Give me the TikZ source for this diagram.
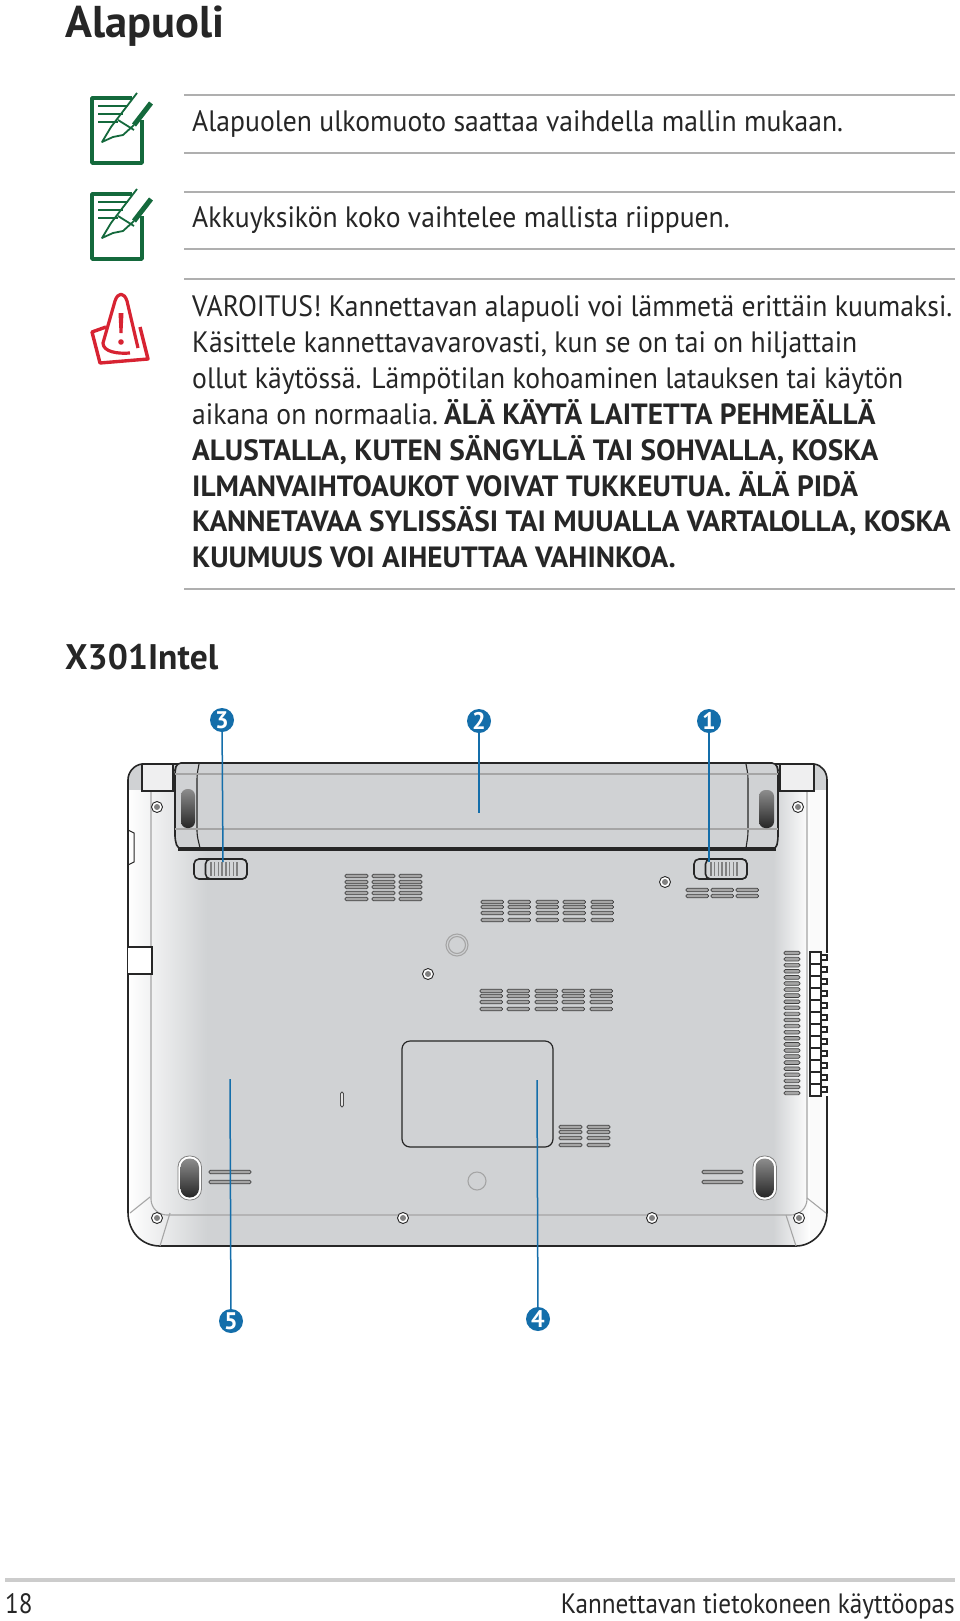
\documentclass[tikz,border=0pt]{standalone}
\usepackage{fontspec}
\setmainfont{PT Sans}
\newfontfamily\bodyfont[FakeStretch=0.937]{PT Sans}
\newfontfamily\footfont[FakeStretch=0.90]{PT Sans}
\usetikzlibrary{calc}
\definecolor{notegreen}{RGB}{20,105,60}
\definecolor{warnred}{RGB}{215,35,50}
\definecolor{callblue}{RGB}{20,110,170}
\definecolor{bodygray}{RGB}{208,210,212}
\definecolor{linegray}{RGB}{165,165,165}
\definecolor{rulegray}{RGB}{175,175,175}
\tikzstyle{heading}=[anchor=base west,inner sep=0pt,font=\fontsize{44.5}{44.5}\selectfont\bfseries,text=black!85]
\tikzstyle{subheading}=[anchor=base west,inner sep=0pt,font=\fontsize{35.5}{36}\selectfont\bfseries,text=black!85]
\tikzstyle{bodytext}=[anchor=base west,inner sep=0pt,font=\bodyfont\fontsize{29.5}{36}\selectfont,text=black!85]
\tikzstyle{boldtext}=[anchor=base west,inner sep=0pt,font=\fontsize{29.3}{36}\selectfont\bfseries,text=black!85]
\tikzstyle{foottext}=[inner sep=0pt,font=\footfont\fontsize{28}{28}\selectfont,text=black!85]
\tikzstyle{callout}=[circle,
                                    fill=callblue,
                                    text=white,
                                    inner sep=0pt,
                                    minimum size=24pt,
                                    font=\fontsize{24}{24}\selectfont\bfseries]
\tikzstyle{outline}=[draw=black!85,line width=1.6pt]
\tikzstyle{thinline}=[draw=linegray,line width=1.1pt]
\tikzstyle{slot}=[draw=black!75,fill=gray!70,line width=.7pt,rounded corners=1.5pt]
\tikzstyle{hrule}=[draw=rulegray,line width=1.2pt]
\tikzstyle{leader}=[draw=callblue,line width=1.5pt]
\newcommand{\ventslot}[3]{\path[slot] (#1,#3-1.8) rectangle (#2,#3+1.8);}
\newcommand{\bodypath}{(142,764) -- (814,764) .. controls (822,765) and (827,772) .. (827,780) -- (827,1212) .. controls (827,1232) and (812,1246) .. (796,1246) -- (160,1246) .. controls (142,1246) and (128,1232) .. (128,1212) -- (128,780) .. controls (128,772) and (134,765) .. (142,764) -- cycle}
\newcommand{\notepad}[2]{%
  \begin{scope}[shift={(#1,#2)}]
    \draw[notegreen,line width=3.6pt,line join=round] (41,8) -- (1,8) -- (1,73) -- (51,73) -- (51,30);
    \draw[notegreen,line width=1.4pt] (7,16) -- (37,16) (7,24) -- (32,24) (7,32) -- (27,32);
    \draw[notegreen,line width=1.8pt,line join=round] (46,3) -- (20,37) -- (11,52) -- (22,47) -- (32,45) -- (43,35);
    \draw[notegreen,line width=1.8pt] (27,30) -- (43,40);
    \draw[notegreen,line width=5pt] (43,35) -- (60,13);
  \end{scope}}
\begin{document}
\begin{tikzpicture}[x=1pt,y=-1pt]
  \useasboundingbox (0,0) rectangle (960,1621);
  \fill[white] (0,0) rectangle (960,1621);

  % Page headings
  \node (title) [heading] at (65,38) {Alapuoli};
  \node (model) [subheading] at (65,669) {X301Intel};

  % Rules next to the notes
  \foreach \rowy in {95,153,192,249,279,589} {
    \draw[hrule] (184,\rowy) -- (955,\rowy);
  }

  % Icons
  \notepad{91}{90}
  \notepad{91}{186}
  \draw[warnred,line width=3.4pt,line join=round] (106,327) -- (92,332) -- (100,363) -- (148,359) -- (140,327);
  \draw[warnred,fill=white,line width=3.2pt,line join=round] (138,348) -- (127,301) .. controls (124,292) and (118,292) .. (115,301) -- (103,343) .. controls (103,352) and (118,354) .. (130,353);
  \fill[warnred] (118.5,313) -- (123.5,313) -- (122.5,333) -- (119.5,333) -- cycle;
  \fill[warnred] (121,342) circle (2.8pt);

  % Note texts
  \node (note1) [bodytext] at (192,132) {Alapuolen ulkomuoto saattaa vaihdella mallin mukaan.};
  \node (note2) [bodytext] at (192,228) {Akkuyksikön koko vaihtelee mallista riippuen.};
  \node (warn1) [bodytext] at (192,316) {VAROITUS! Kannettavan alapuoli voi lämmetä erittäin kuumaksi.};
  \node (warn2) [bodytext] at (192,352) {Käsittele kannettavavarovasti, kun se on tai on hiljattain};
  \node (warn3) [bodytext] at (192,388) {ollut käytössä. Lämpötilan kohoaminen latauksen tai käytön};
  \node (warn4) [bodytext] at (192,424) {aikana on normaalia.};
  \node (warn4b) [boldtext] at (444,424) {ÄLÄ KÄYTÄ LAITETTA PEHMEÄLLÄ};
  \node (warn5) [boldtext] at (192,460) {ALUSTALLA, KUTEN SÄNGYLLÄ TAI SOHVALLA, KOSKA};
  \node (warn6) [boldtext] at (192,496) {ILMANVAIHTOAUKOT VOIVAT TUKKEUTUA. ÄLÄ PIDÄ};
  \node (warn7) [boldtext] at (192,531) {KANNETAVAA SYLISSÄSI TAI MUUALLA VARTALOLLA, KOSKA};
  \node (warn8) [boldtext] at (192,567) {KUUMUUS VOI AIHEUTTAA VAHINKOA.};

  % Laptop body
  \begin{scope}
    \clip \bodypath;
    \fill[bodygray] (120,760) rectangle (830,1250);
    \shade[left color=white,right color=bodygray] (128,790) rectangle (207,1250);
    \shade[left color=bodygray,right color=white] (773,790) rectangle (810,1250);
    \fill[white!96!gray] (810,790) rectangle (830,1250);
  \end{scope}
  \draw[outline] \bodypath;

  % Inner panel
  \draw[thinline,rounded corners=16pt] (151,791) -- (151,1215) -- (807,1215) -- (807,791);
  \draw[thinline] (130,1213) -- (150,1197) (170,1213) -- (160,1246) (807,1198) -- (826,1213) (786,1215) -- (796,1246);

  % Hinges and side bumps
  \draw[outline,fill=bodygray!35] (142,765) -- (142,791) -- (173,791) -- (173,765);
  \draw[outline,fill=bodygray!35] (780,765) -- (780,791) -- (814,791) -- (814,765);
  \draw[outline,line width=1pt] (128,830) -- (134,833) -- (134,862) -- (128,865);
  \draw[outline,fill=white] (128,947) -- (152,947) -- (152,974) -- (128,974);

  % Battery
  \draw[outline,fill=bodygray,rounded corners=4pt] (177,763) -- (175,770) -- (175,840) -- (178,849) -- (776,849) -- (778,840) -- (778,770) -- (776,763) -- cycle;
  \draw[outline,line width=1.1pt,rounded corners=4pt] (199,764) -- (197,775) -- (197,835) -- (200,848);
  \draw[outline,line width=1.1pt,rounded corners=4pt] (746,764) -- (748,775) -- (748,835) -- (746,848);
  \draw[thinline] (175,774) -- (778,774) (175,829) -- (778,829);
  \draw[black!85,line width=3.5pt] (178,849) -- (776,849);

  % Battery feet
  \shade[top color=black!45,middle color=black!85,bottom color=black!85,rounded corners=6.5pt] (181,789) rectangle (195,828);
  \shade[top color=black!45,middle color=black!85,bottom color=black!85,rounded corners=6.5pt] (759,790) rectangle (774,828);

  % Latches
  \foreach \latchx in {194,694} {
    \draw[outline,rounded corners=5pt] (\latchx,859) rectangle ++(53,20);
    \draw[outline,fill=bodygray!95!white,rounded corners=5pt] (\latchx+11.5,859) rectangle ++(41.5,20);
    \foreach \tick in {0,...,7} {
      \draw[gray,line width=1.4pt] (\latchx+17+\tick*3.7,862) -- ++(0,14);
    }
  }

  % Vents
  \foreach \ventx in {345,372,399} {
    \foreach \venty in {876,882,887,893,899} {
      \ventslot{\ventx}{\ventx+23}{\venty}
    }
  }
  \foreach \ventx in {481,508,536,563,591} {
    \foreach \venty in {902,907,913,920} {
      \ventslot{\ventx}{\ventx+22.5}{\venty}
    }
    \foreach \venty in {991,996,1002,1009} {
      \ventslot{\ventx-1}{\ventx+21.5}{\venty}
    }
  }
  \foreach \ventx in {686,711,736} {
    \foreach \venty in {890,896} {
      \ventslot{\ventx}{\ventx+22.5}{\venty}
    }
  }
  \foreach \ventx in {559,587} {
    \foreach \venty in {1127,1132,1138,1145} {
      \ventslot{\ventx}{\ventx+23}{\venty}
    }
  }
  \foreach \venty in {1172,1182} {
    \ventslot{209}{251}{\venty}
    \ventslot{702}{743}{\venty}
  }
  \foreach \rownum in {0,...,23} {
    \ventslot{784}{800}{953+\rownum*6.09}
  }

  % Comb on the right edge
  \draw[white,line width=3pt] (827,953) -- (827,1096);
  \foreach \rownum in {0,...,11} {
    \draw[black!85,line width=1.7pt,fill=white] (820,955+\rownum*12) rectangle ++(7,5);
    \draw[black!85,line width=1.7pt,fill=white] (810,952+\rownum*12) rectangle ++(11,12);
  }

  % Memory door
  \draw[outline,line width=1.2pt,rounded corners=8pt] (402,1041) rectangle (553,1147);
  \draw[black!70,fill=white!80!gray,line width=.8pt,rounded corners=1.5pt] (340.5,1092) rectangle (343.5,1107);

  % Round marks
  \draw[thinline] (457,945) circle (11pt);
  \draw[thinline] (457,945) circle (8.5pt);
  \draw[thinline] (477,1181) circle (9pt);
  \foreach \screwx/\screwy in {157/807,798/807,428/974,665/882,157/1218,403/1218,652/1218,799/1218} {
    \draw[black!85,fill=white,line width=.9pt] (\screwx,\screwy) circle (5.5pt);
    \fill[gray] (\screwx,\screwy) circle (3pt);
  }

  % Rubber feet
  \foreach \footx in {178,753} {
    \draw[gray,fill=white,line width=.8pt,rounded corners=11pt] (\footx,1156) rectangle ++(23.5,44);
    \shade[top color=black!45,middle color=black!85,bottom color=black!85,rounded corners=9pt] (\footx+2.5,1158.5) rectangle ++(18.5,39);
  }

  % Callouts
  \node (c3) [callout] at (222,720) {3};
  \node (c2) [callout] at (479,721) {2};
  \node (c1) [callout] at (709,721) {1};
  \node (c5) [callout] at (231,1321) {5};
  \node (c4) [callout] at (538,1319) {4};
  \coordinate (latchL) at (223,862);
  \coordinate (battery) at (479,813);
  \coordinate (latchR) at (709,862);
  \coordinate (speaker) at (230,1079);
  \coordinate (door) at (537,1080);
  \draw[leader] (c3) -- (latchL);
  \draw[leader] (c2) -- (battery);
  \draw[leader] (c1) -- (latchR);
  \draw[leader] (c5) -- (speaker);
  \draw[leader] (c4) -- (door);

  % Footer
  \draw[draw=gray!40,line width=4pt] (5,1580) -- (955,1580);
  \node (pagenum) [foottext,anchor=base west] at (5,1613) {18};
  \node (manual) [foottext,anchor=base east] at (955,1613) {Kannettavan tietokoneen käyttöopas};
\end{tikzpicture}
\end{document}
